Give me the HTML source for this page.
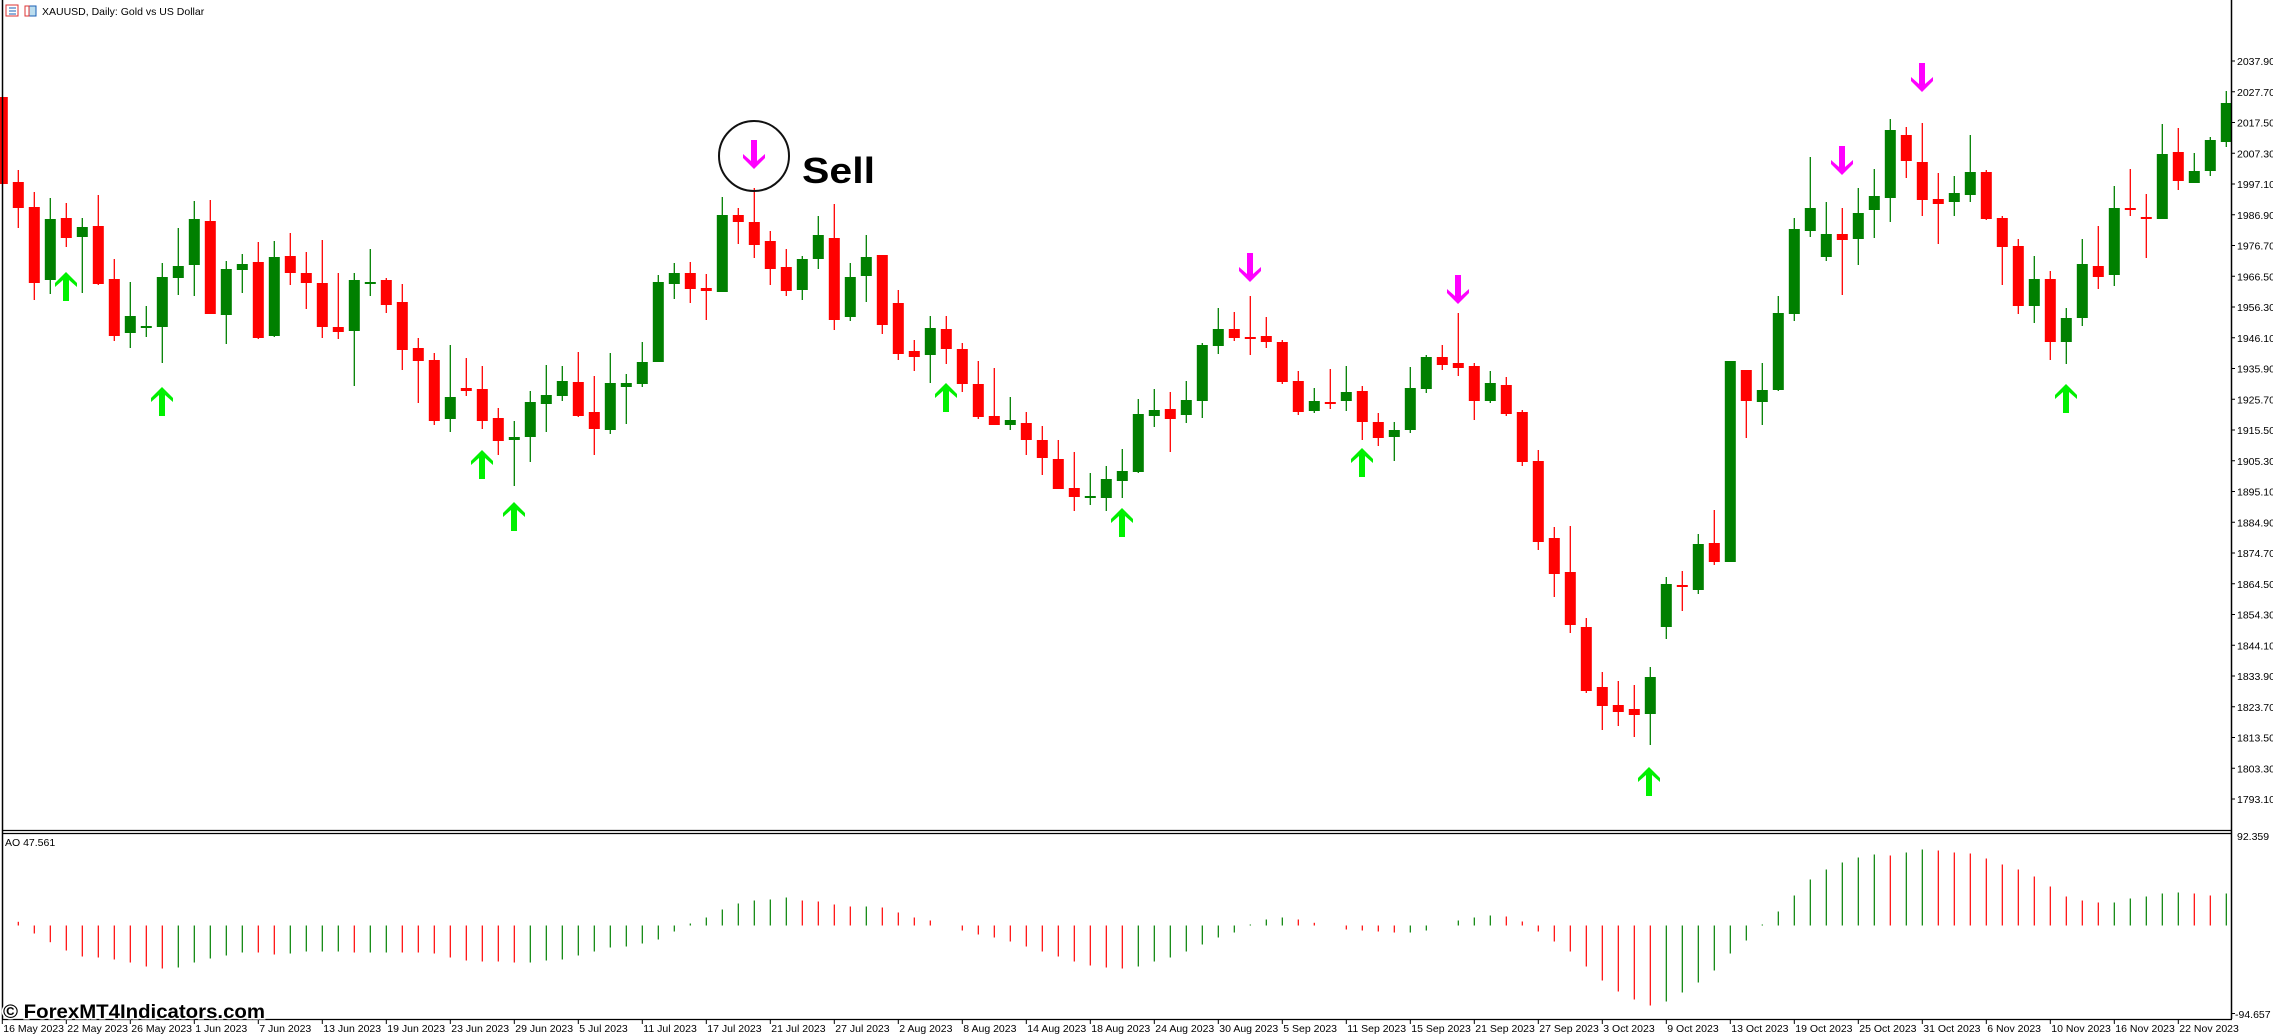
<!DOCTYPE html>
<html><head><meta charset="utf-8"><style>
html,body{margin:0;padding:0;background:#fff;width:2273px;height:1035px;overflow:hidden}
svg{display:block}
text{font-family:"Liberation Sans",sans-serif}
</style></head><body>
<svg id="s" width="2273" height="1035" viewBox="0 0 2273 1035" xmlns="http://www.w3.org/2000/svg">
<rect width="2273" height="1035" fill="#fff"/>
<g id="g"></g>
<!-- frame -->
<line x1="2.5" y1="0" x2="2.5" y2="1019" stroke="#000" stroke-width="1.5"/>
<line x1="2231.5" y1="0" x2="2231.5" y2="1019" stroke="#000" stroke-width="1.5"/>
<line x1="2" y1="830.5" x2="2232" y2="830.5" stroke="#000" stroke-width="1.2"/>
<line x1="2" y1="833.5" x2="2232" y2="833.5" stroke="#000" stroke-width="1.2"/>
<line x1="2" y1="1019.5" x2="2232" y2="1019.5" stroke="#000" stroke-width="1.2"/>
<!-- title -->
<rect x="6" y="5" width="12" height="11" fill="#fff" stroke="#d33" stroke-width="1"/>
<line x1="9" y1="8" x2="16" y2="8" stroke="#1a5fb4"/><line x1="9" y1="11" x2="16" y2="11" stroke="#1a5fb4"/><line x1="9" y1="14" x2="16" y2="14" stroke="#1a5fb4"/>
<rect x="25" y="6" width="11" height="10" fill="#bde" stroke="#1a5fb4" stroke-width="1"/>
<rect x="25" y="6" width="4" height="10" fill="#fff" stroke="#d33" stroke-width="1"/>
<text x="42" y="15" font-size="10.5" fill="#000">XAUUSD, Daily:  Gold vs US Dollar</text>
<text x="5" y="846" font-size="10.5" fill="#000">AO 47.561</text>
<text x="2237" y="840" font-size="10.5" fill="#000">92.359</text>
<text x="2235" y="1018" font-size="10.5" fill="#000">-94.657</text>
<line x1="2231" y1="1013.5" x2="2235" y2="1013.5" stroke="#000"/>
<!-- sell annotation -->
<circle cx="754" cy="156" r="35" fill="none" stroke="#111" stroke-width="2"/>
<text x="802" y="183" font-size="36" font-weight="bold" fill="#000" textLength="73" lengthAdjust="spacingAndGlyphs">Sell</text>
<!-- watermark -->
<text x="3" y="1018" font-size="19" font-weight="bold" fill="#000" stroke="#fff" stroke-width="3" paint-order="stroke" textLength="262" lengthAdjust="spacingAndGlyphs">© ForexMT4Indicators.com</text>
</svg>
<script>
var C=[
[97,184,97,184,'r'],[182,208,170,228,'r'],[207,283,192,300,'r'],[219,280,198,294,'g'],[218,238,203,247,'r'],
[227,237,218,293,'g'],[226,284,195,285,'r'],[279,336,259,341,'r'],[316,333,282,348,'g'],[326,328,306,337,'g'],
[277,327,263,363,'g'],[266,278,228,295,'g'],[219,265,201,296,'g'],[221,314,200,314,'r'],[269,315,261,344,'g'],
[264,270,254,293,'g'],[262,338,242,339,'r'],[257,336,241,337,'g'],[256,273,233,285,'r'],[273,283,252,309,'r'],
[283,327,240,338,'r'],[327,332,273,339,'r'],[280,331,273,386,'g'],[282,284,249,296,'g'],[280,305,278,313,'r'],
[302,350,284,370,'r'],[348,361,338,403,'r'],[360,421,353,425,'r'],[397,419,345,432,'g'],[388,391,358,396,'r'],
[389,421,366,429,'r'],[418,441,408,455,'r'],[437,440,421,486,'g'],[402,437,391,462,'g'],[395,404,365,432,'g'],
[381,396,366,401,'g'],[382,416,352,417,'r'],[412,429,376,455,'r'],[383,430,353,434,'g'],[383,387,374,424,'g'],
[362,384,342,387,'g'],[282,362,275,362,'g'],[273,284,263,299,'g'],[273,289,262,303,'r'],[288,291,274,320,'r'],
[215,292,197,292,'g'],[215,222,208,244,'r'],[222,245,188,258,'r'],[241,269,231,285,'r'],[267,291,249,296,'r'],
[259,290,256,300,'g'],[235,259,216,269,'g'],[238,320,204,330,'r'],[277,317,263,321,'g'],[257,276,235,302,'g'],
[255,325,255,334,'r'],[303,354,290,360,'r'],[351,357,340,371,'r'],[328,355,316,383,'g'],[329,349,316,364,'r'],
[349,384,343,392,'r'],[384,417,361,419,'r'],[416,425,368,425,'r'],[420,425,397,430,'g'],[423,440,412,455,'r'],
[440,458,426,475,'r'],[459,489,440,489,'r'],[488,497,452,511,'r'],[496,497,473,505,'g'],[479,498,466,511,'g'],
[471,481,449,498,'g'],[414,472,399,473,'g'],[410,416,389,427,'g'],[409,419,392,452,'r'],[400,415,381,423,'g'],
[345,401,343,418,'g'],[329,346,308,354,'g'],[329,338,312,341,'r'],[337,338,296,355,'r'],[336,342,317,348,'r'],
[342,382,340,384,'r'],[381,412,371,415,'r'],[401,411,388,413,'g'],[402,403,369,409,'r'],[392,401,366,411,'g'],
[391,422,386,440,'r'],[422,438,413,446,'r'],[430,437,422,461,'g'],[388,430,367,433,'g'],[357,389,355,393,'g'],
[357,365,345,370,'r'],[363,368,313,376,'r'],[366,401,363,420,'r'],[383,401,371,403,'g'],[385,414,377,416,'r'],
[412,462,410,466,'r'],[461,542,450,550,'r'],[538,574,527,597,'r'],[572,625,526,633,'r'],[627,691,618,693,'r'],
[687,706,672,730,'r'],[705,712,681,726,'r'],[709,715,685,737,'r'],[677,714,667,745,'g'],[584,627,577,639,'g'],
[585,587,571,611,'r'],[544,590,534,594,'g'],[543,562,510,565,'r'],[361,562,361,562,'g'],[370,401,370,438,'r'],
[390,402,363,425,'g'],[313,390,296,391,'g'],[229,314,218,321,'g'],[208,231,157,237,'g'],[234,257,202,261,'g'],
[234,240,208,295,'r'],[213,239,188,265,'g'],[196,210,169,238,'g'],[130,198,119,222,'g'],[135,161,127,178,'r'],
[162,200,123,216,'r'],[199,204,173,244,'r'],[193,202,176,216,'g'],[172,195,135,202,'g'],[172,219,170,220,'r'],
[218,247,216,285,'r'],[246,306,239,314,'r'],[279,306,256,323,'g'],[279,342,271,360,'r'],[318,342,308,364,'g'],
[264,318,239,326,'g'],[266,277,226,289,'r'],[208,275,186,286,'g'],[208,210,169,216,'r'],[217,219,194,258,'r'],
[154,219,124,219,'g'],[152,181,128,190,'r'],[171,183,153,183,'g'],[140,171,137,176,'g'],[103,142,91,147,'g']];
var A=[[0,'r'],[3.7,'r'],[-8,'r'],[-16.7,'r'],[-25,'r'],[-31,'r'],[-32,'r'],[-34,'r'],[-37,'r'],[-41,'r'],
[-43,'r'],[-42,'g'],[-37,'g'],[-33,'g'],[-30,'g'],[-27,'g'],[-27,'r'],[-29,'r'],[-28,'g'],[-26,'g'],
[-26,'g'],[-26,'g'],[-27,'r'],[-27,'g'],[-27,'g'],[-27,'r'],[-27,'r'],[-28,'r'],[-32,'r'],[-35,'r'],
[-36,'r'],[-36,'r'],[-37,'r'],[-37,'g'],[-35,'g'],[-34,'g'],[-30,'g'],[-26,'g'],[-22,'g'],[-21,'g'],
[-18,'g'],[-14,'g'],[-6,'g'],[2,'g'],[8,'g'],[16,'g'],[22,'g'],[25,'g'],[26,'g'],[28,'g'],
[25,'r'],[24,'r'],[21,'r'],[19,'r'],[19,'g'],[18,'r'],[13,'r'],[8,'r'],[5,'r'],[0,'r'],
[-5,'r'],[-9,'r'],[-12,'r'],[-16,'r'],[-21,'r'],[-26,'r'],[-31,'r'],[-36,'r'],[-40,'r'],[-42,'r'],
[-43,'r'],[-41,'g'],[-36,'g'],[-32,'g'],[-26,'g'],[-19,'g'],[-12,'g'],[-7,'g'],[1,'g'],[6,'g'],
[8,'g'],[6,'r'],[2.7,'r'],[0,'r'],[-4,'r'],[-5,'r'],[-6,'r'],[-7,'r'],[-7,'g'],[-5,'g'],
[0,'g'],[5,'g'],[8,'g'],[10,'g'],[9,'r'],[4,'r'],[-6,'r'],[-16,'r'],[-26,'r'],[-41,'r'],
[-55,'r'],[-66,'r'],[-74,'r'],[-80,'r'],[-76,'g'],[-67,'g'],[-57,'g'],[-45,'g'],[-28,'g'],[-15,'g'],
[1,'g'],[14,'g'],[30,'g'],[46,'g'],[56,'g'],[63,'g'],[68,'g'],[71,'g'],[70,'r'],[73,'g'],
[76,'g'],[75,'r'],[73,'r'],[72,'r'],[67,'r'],[61,'r'],[56,'r'],[49,'r'],[39,'r'],[29,'r'],
[25,'r'],[23,'r'],[23,'g'],[27,'g'],[29,'g'],[32,'g'],[33,'g'],[32,'r'],[30,'r'],[32,'g']];
var h='';
function X(i){return 2.3+16*i;}
for(var i=0;i<C.length;i++){var c=C[i],x=X(i),col=c[4]=='r'?'#ff0000':'#008000';
 h+='<line x1="'+x+'" y1="'+c[2]+'" x2="'+x+'" y2="'+c[3]+'" stroke="'+col+'" stroke-width="1.3"/>';
 var bh=Math.max(c[1]-c[0],2);
 h+='<rect x="'+(x-5.5)+'" y="'+c[0]+'" width="11" height="'+bh+'" fill="'+col+'"/>';}
var Z=925.5;
for(var i=0;i<A.length;i++){var v=A[i][0];if(Math.abs(v)<0.5)continue;var x=X(i),col=A[i][1]=='r'?'#ff0000':'#008000';
 h+='<line x1="'+x+'" y1="'+Z+'" x2="'+x+'" y2="'+(Z-v)+'" stroke="'+col+'" stroke-width="1.2"/>';}
function up(cx,y){return '<path d="M'+cx+','+y+' L'+(cx+11)+','+(y+11)+' L'+(cx+11)+','+(y+15)+' L'+(cx+3)+','+(y+8)+' L'+(cx+3)+','+(y+29)+' L'+(cx-3)+','+(y+29)+' L'+(cx-3)+','+(y+8)+' L'+(cx-11)+','+(y+15)+' L'+(cx-11)+','+(y+11)+' Z" fill="#00f000"/>';}
function dn(cx,y){var b=y+29;return '<path d="M'+cx+','+b+' L'+(cx+11)+','+(b-11)+' L'+(cx+11)+','+(b-15)+' L'+(cx+3)+','+(b-8)+' L'+(cx+3)+','+y+' L'+(cx-3)+','+y+' L'+(cx-3)+','+(b-8)+' L'+(cx-11)+','+(b-15)+' L'+(cx-11)+','+(b-11)+' Z" fill="#ff00ff"/>';}
[[66,272],[162,387],[482,450],[514,502],[946,383],[1122,508],[1362,448],[1649,767],[2066,384]].forEach(function(a){h+=up(a[0],a[1]);});
[[754,140],[1250,253],[1458,275],[1842,146],[1922,63]].forEach(function(a){h+=dn(a[0],a[1]);});
var L=['16 May 2023','22 May 2023','26 May 2023','1 Jun 2023','7 Jun 2023','13 Jun 2023','19 Jun 2023','23 Jun 2023','29 Jun 2023','5 Jul 2023','11 Jul 2023','17 Jul 2023','21 Jul 2023','27 Jul 2023','2 Aug 2023','8 Aug 2023','14 Aug 2023','18 Aug 2023','24 Aug 2023','30 Aug 2023','5 Sep 2023','11 Sep 2023','15 Sep 2023','21 Sep 2023','27 Sep 2023','3 Oct 2023','9 Oct 2023','13 Oct 2023','19 Oct 2023','25 Oct 2023','31 Oct 2023','6 Nov 2023','10 Nov 2023','16 Nov 2023','22 Nov 2023'];
for(var k=0;k<L.length;k++){var x=X(4*k);
 h+='<line x1="'+x+'" y1="1019" x2="'+x+'" y2="1024" stroke="#000"/>';
 h+='<text x="'+(x+1)+'" y="1032" font-size="10.5" fill="#000">'+L[k]+'</text>';}
for(var k=0;k<25;k++){var y=799-k*30.75,v=(1793.1+10.2*k).toFixed(2);
 h+='<line x1="2231" y1="'+y+'" x2="2235" y2="'+y+'" stroke="#000"/>';
 h+='<text x="2237" y="'+(y+4)+'" font-size="10.5" fill="#000">'+v+'</text>';}
document.getElementById('g').innerHTML=h;
</script>
</body></html>
